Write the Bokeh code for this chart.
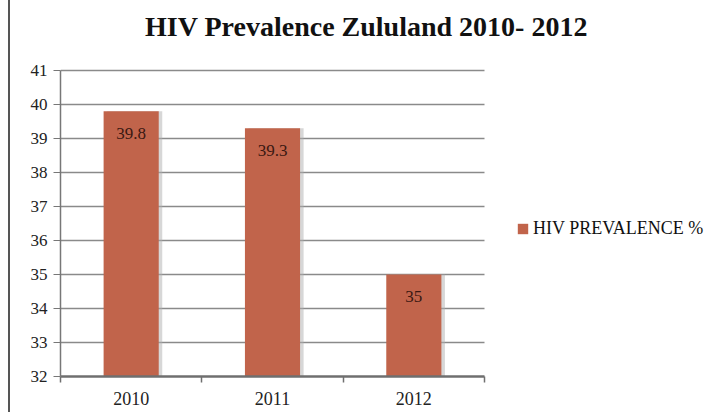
from bokeh.plotting import figure
from bokeh.models import (Range1d, ColumnDataSource, LinearAxis, FixedTicker,
                          SingleIntervalTicker, Legend, LegendItem, Grid, Label, BoxAnnotation)
from bokeh.core.properties import value
from bokeh.embed import file_html
from bokeh.resources import INLINE

# ---- data ----
years = ["2010", "2011", "2012"]
prevalence = [39.8, 39.3, 35.0]
value_labels = ["39.8", "39.3", "35"]
series_name = "HIV PREVALENCE %"
title_text = "HIV Prevalence Zululand 2010- 2012"
y_min, y_max = 32, 41

# ---- layout (pixels) ----
PLOT_W, PLOT_H = 424, 306          # visible chart area
FRAME_W, FRAME_H = 644, 376        # drawing frame (extends under title & legend)

SERIF = "Liberation Serif"
BAR = "#C1644B"
GRID = "#8a8a8a"
AXIS = "#6f6f6f"

n = len(years)
centers = [i + 0.5 for i in range(n)]
src = ColumnDataSource(dict(x=centers, year=years, val=prevalence, lab=value_labels,
                            base=[y_min] * n))
shadow_src = ColumnDataSource(dict(x=[c + 0.025 for c in centers], val=prevalence,
                                   base=[y_min] * n))

x_end = n * FRAME_W / PLOT_W
y_end = y_min + (y_max - y_min) * FRAME_H / PLOT_H

p = figure(x_range=Range1d(0, x_end), y_range=Range1d(y_min, y_end),
           width=694, height=412, min_border_left=50, min_border_top=0,
           min_border_bottom=36, min_border_right=0,
           x_axis_location=None, y_axis_location=None,
           output_backend="svg", toolbar_location=None)
p.outline_line_color = None
p.styles = {"margin-left": "8px", "border-left": "2px solid #555555"}
p.center = [r for r in p.center if not isinstance(r, Grid)]

# y axis
yax = LinearAxis(ticker=SingleIntervalTicker(interval=1), bounds=(y_min, y_max))
yax.axis_line_color = "#777777"
yax.axis_line_width = 1.5
yax.major_tick_line_color = "#777777"
yax.major_tick_out = 7
yax.major_tick_in = 0
yax.minor_tick_line_color = None
yax.major_label_text_font = SERIF
yax.major_label_text_font_size = "17px"
yax.major_label_text_color = "#222222"
yax.major_label_standoff = 6
p.add_layout(yax, "left")

grid = Grid(dimension=1, ticker=yax.ticker, bounds=(y_min, y_max),
            grid_line_color=GRID, grid_line_width=1.6)
if "cross_bounds" in Grid.properties():
    grid.cross_bounds = (0, n)
    p.add_layout(grid)
else:
    p.add_layout(grid)
    p.add_layout(BoxAnnotation(left=n, fill_color="white", fill_alpha=1.0,
                               line_color=None, level="underlay"))

# x axis: tick marks at category edges
tax = LinearAxis(ticker=FixedTicker(ticks=list(range(n + 1))), bounds=(0, n))
tax.axis_line_color = AXIS
tax.axis_line_width = 2.5
tax.major_tick_line_color = AXIS
tax.major_tick_line_width = 1.5
tax.major_tick_out = 6
tax.major_tick_in = 0
tax.minor_tick_line_color = None
tax.major_label_text_font_size = "1px"
tax.major_label_text_alpha = 0
tax.major_label_standoff = 0
p.add_layout(tax, "below")

# x axis labels at category centres
lax = LinearAxis(ticker=FixedTicker(ticks=centers),
                 major_label_overrides={c: y for c, y in zip(centers, years)})
lax.axis_line_color = None
lax.major_tick_line_color = None
lax.minor_tick_line_color = None
lax.major_label_text_font = SERIF
lax.major_label_text_font_size = "18px"
lax.major_label_text_color = "#222222"
lax.major_label_standoff = 3
p.add_layout(lax, "below")

# bars with soft shadow
p.vbar(x="x", top="val", bottom="base", width=0.39, source=shadow_src,
       fill_color="#b0b0b0", fill_alpha=0.5, line_color=None)
bars = p.vbar(x="x", top="val", bottom="base", width=0.39, source=src,
              fill_color=BAR, line_color=None)

p.text(x="x", y="val", text="lab", source=src, y_offset=22,
       text_align="center", text_baseline="middle", text_font=value(SERIF),
       text_font_size="17px", text_color="#3a1812")

# title (inside the frame's upper band)
p.add_layout(Label(x=306, y=FRAME_H - 26, x_units="screen", y_units="screen",
                   text=title_text, text_align="center", text_baseline="alphabetic",
                   text_font=SERIF, text_font_size="28px", text_font_style="bold",
                   text_color="#111111"))

legend = Legend(items=[LegendItem(label=series_name, renderers=[bars])],
                location=(456, 137), border_line_color=None, background_fill_alpha=0,
                glyph_width=13, glyph_height=13, label_standoff=4, padding=0, margin=0,
                label_text_font=SERIF, label_text_font_size="18px",
                label_text_color="#111111")
p.add_layout(legend)

open("out.html", "w").write(file_html(p, INLINE))
